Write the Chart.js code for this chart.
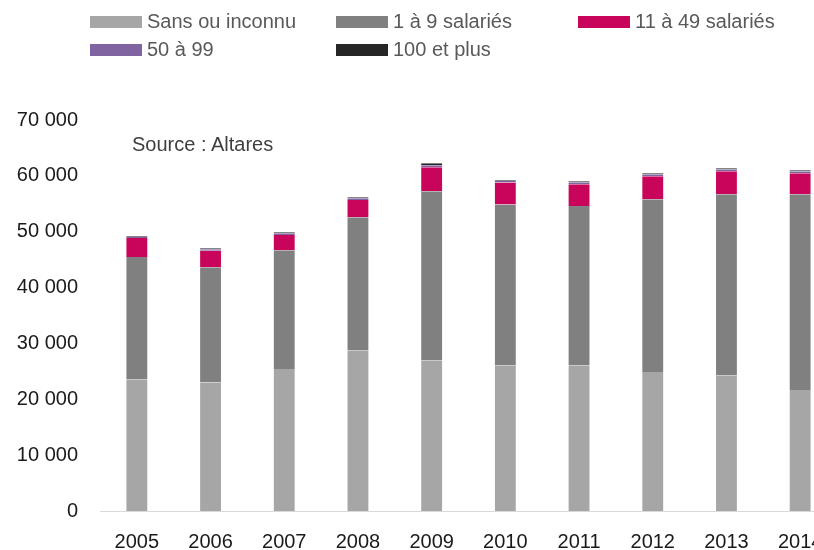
<!DOCTYPE html>
<html>
<head>
<meta charset="utf-8">
<script src="https://cdn.jsdelivr.net/npm/chart.js@4"></script>
<style>
  html, body { margin: 0; padding: 0; background: #fff; overflow: hidden; width: 814px; height: 550px; }
  #wrap { position: absolute; left: 0; top: 0; width: 850px; height: 550px; }
  .legend-item { position: absolute; display: flex; align-items: center; font-family: "Liberation Sans", Arial, sans-serif; font-size: 20px; color: #595959; white-space: nowrap; }
  .legend-box { width: 52px; height: 12px; margin-right: 5px; }
  #source { position: absolute; left: 132px; top: 133px; font-family: "Liberation Sans", Arial, sans-serif; font-size: 20px; color: #404040; }
</style>
</head>
<body>
<div id="wrap"><canvas id="chart" width="850" height="550"></canvas></div>
<div id="legend"></div>
<div id="source">Source : Altares</div>
<script>
// Chart data
const years = ['2005', '2006', '2007', '2008', '2009', '2010', '2011', '2012', '2013', '2014'];
const sansOuInconnu = [23600, 23000, 25400, 28800, 27000, 26100, 26100, 24900, 24300, 21650];
const unANeuf = [21890, 20650, 21290, 23790, 30250, 28770, 28520, 30910, 32410, 35060];
const onzeA49 = [3400, 2920, 2740, 3100, 4290, 3930, 3880, 4120, 4120, 3760];
const cinquanteA99 = [230, 300, 300, 300, 360, 260, 320, 330, 300, 330];
const centEtPlus = [130, 180, 180, 180, 350, 150, 210, 210, 230, 200];
const yTicks = [0, 10000, 20000, 30000, 40000, 50000, 60000, 70000];

const seriesNames = ['Sans ou inconnu', '1 à 9 salariés', '11 à 49 salariés', '50 à 99', '100 et plus'];
const seriesColors = ['#a6a6a6', '#808080', '#c8055a', '#8064a2', '#262626'];
const seriesValues = [sansOuInconnu, unANeuf, onzeA49, cinquanteA99, centEtPlus];

// Legend built in HTML (three-column grid like the original)
const legendSpots = [[90, 22], [336, 22], [578, 22], [90, 50], [336, 50]];
const legend = document.getElementById('legend');
seriesNames.forEach((name, i) => {
  const item = document.createElement('div');
  item.className = 'legend-item';
  item.style.left = legendSpots[i][0] + 'px';
  item.style.top = (legendSpots[i][1] - 12) + 'px';
  item.innerHTML = `<span class="legend-box" style="background:${seriesColors[i]}"></span><span>${name}</span>`;
  legend.appendChild(item);
});

function formatFr(v) {
  return String(v).replace(/\B(?=(\d{3})+(?!\d))/g, ' ');
}

const tickFont = { family: "'Liberation Sans', Arial, sans-serif", size: 20 };

const ctx = document.getElementById('chart').getContext('2d');
new Chart(ctx, {
  type: 'bar',
  data: {
    labels: years,
    datasets: seriesNames.map((name, i) => ({
      label: name,
      data: seriesValues[i],
      backgroundColor: seriesColors[i],
      borderColor: 'rgba(255, 255, 255, 0.45)',
      borderWidth: { left: 1, right: 1, top: 0, bottom: 0 },
      borderSkipped: false,
      barPercentage: 0.31,
      categoryPercentage: 1.0
    }))
  },
  options: {
    responsive: false,
    animation: false,
    layout: { padding: { left: 0, right: 13, top: 120, bottom: 0 } },
    plugins: {
      legend: { display: false },
      tooltip: { enabled: false }
    },
    scales: {
      x: {
        stacked: true,
        grid: { display: false, drawTicks: false },
        border: { display: true, color: '#d9d9d9', width: 1 },
        afterFit: (axis) => { axis.height = 39; },
        ticks: {
          color: '#1a1a1a',
          padding: 19,
          maxRotation: 0,
          font: tickFont
        }
      },
      y: {
        stacked: true,
        min: 0,
        max: 70000,
        afterBuildTicks: (axis) => { axis.ticks = yTicks.map(v => ({ value: v })); },
        afterFit: (axis) => { axis.width = 100; },
        grid: { display: false, drawTicks: false },
        border: { display: false },
        ticks: {
          color: '#1a1a1a',
          padding: 22,
          font: tickFont,
          callback: (v) => formatFr(v)
        }
      }
    }
  }
});
</script>
</body>
</html>
